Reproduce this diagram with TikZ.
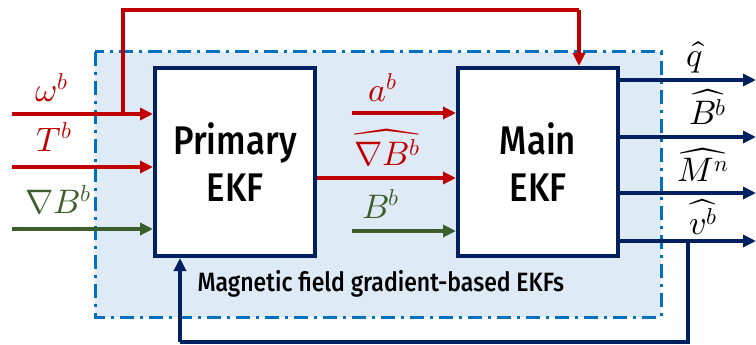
\documentclass[tikz,border=0pt]{standalone}
\usepackage{unicode-math}
\setmathfont{Latin Modern Math}
\newfontfamily\ekffont[FakeStretch=0.87]{Fira Sans Medium}
\newcommand\supsc[1]{^{\mbox{\fontsize{23}{23}\selectfont$#1$}}}
\usepackage{xcolor}
\definecolor{sigRed}   {HTML}{C00000}
\definecolor{sigGreen} {HTML}{3B5E2B}
\definecolor{sigNavy}  {HTML}{002060}
\definecolor{grpBlue}  {HTML}{0070C0}
\definecolor{grpBack}  {HTML}{DEEAF6}
\usetikzlibrary{arrows.meta, positioning, calc}

\begin{document}
\begin{tikzpicture}[
    x=1pt, y=-1pt,
    ekf/.style={draw=sigNavy, line width=4pt, fill=white, minimum width=160pt,
                minimum height=188pt, inner sep=0pt, align=center,
                font=\ekffont\fontsize{40}{47}\selectfont},
    sig/.style={font=\fontsize{34}{36}\selectfont, inner sep=0pt},
    arr/.style={-{Triangle[length=13pt, width=12pt]}, line width=4pt},
    ln/.style={line width=4pt}
]
\useasboundingbox (0,0) rectangle (756,345);
% Group background
\draw[grpBlue, fill=grpBack, line width=3pt,
      dash pattern=on 14pt off 6pt on 3pt off 6pt] (95,52) rectangle (661,317);
\node[font=\ekffont\fontsize{26.5}{28}\selectfont, anchor=west] (grp) at (194,284)
    {Magnetic field gradient-based EKFs};
% Filter blocks
\node[ekf] (prim) at (235,162) {Primary\\EKF};
\node[ekf] (main) at (538,162) {Main\\EKF};
% Inputs of the primary EKF
\coordinate (inW) at (12,114);
\coordinate (inT) at (12,167);
\coordinate (inG) at (12,229);
\draw[arr, sigRed] (inW) -- (inW -| prim.west);
\draw[arr, sigRed] (inT) -- (inT -| prim.west);
\draw[arr, sigGreen] (inG) -- (inG -| prim.west);
\node[sig, sigRed] (lW) at (52,88) {$\omega\supsc{b}$};
\node[sig, sigRed] (lT) at (54,137) {$T\supsc{b}$};
\node[sig, sigGreen] (lG) at (58,200) {$\nabla B\supsc{b}$};
% Inputs of the main EKF
\coordinate (inA) at (352,113);
\coordinate (inB) at (352,231);
\draw[arr, sigRed] (inA) -- (inA -| main.west);
\draw[arr, sigRed] (prim.east |- 0,178) -- (main.west |- 0,178);
\draw[arr, sigGreen] (inB) -- (inB -| main.west);
\node[sig, sigRed] (lA) at (383,88) {$a\supsc{b}$};
\node[sig, sigRed] (lGh) at (387,148) {$\widehat{\nabla B\supsc{b}}$};
\node[sig, sigGreen] (lB) at (381,204) {$B\supsc{b}$};
% Gyro feed-forward to the main EKF
\coordinate (tapW) at (123,114);
\coordinate (topR) at (579,10);
\draw[ln, sigRed] (tapW) |- (topR);
\draw[arr, sigRed] (topR) -- (topR |- main.north);
% Outputs
\foreach \y/\n in {80/q, 137/B, 193/M, 241/v} {
    \draw[arr, sigNavy] (main.east |- 0,\y) -- (756,\y) coordinate (out\n);
}
\node[sig] (lq) at (695,57) {$\hat{q}$};
\node[sig] (lBh) at (708,107) {$\widehat{B\supsc{b}}$};
\node[sig] (lM) at (703,165) {$\widehat{M\supsc{n}}$};
\node[sig] (lv) at (703,217) {$\widehat{v\supsc{b}}$};
% Velocity feedback to the primary EKF
\coordinate (tapV) at (688,241);
\coordinate (botL) at (180,342);
\draw[ln, sigNavy] (tapV) |- (botL);
\draw[arr, sigNavy] (botL) -- (botL |- prim.south);
\end{tikzpicture}
\end{document}
